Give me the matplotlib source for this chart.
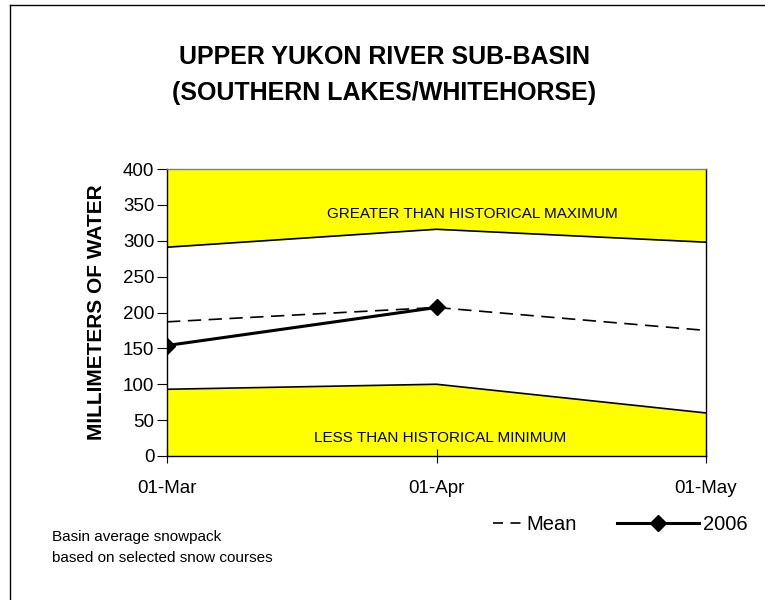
import matplotlib.pyplot as plt
from matplotlib.lines import Line2D

plt.rcParams['font.family'] = ['Liberation Sans', 'DejaVu Sans']

dates = ['01-Mar', '01-Apr', '01-May']
hist_max = [291, 316, 298]
hist_min = [93, 100, 60]
mean_swe = [187, 207, 175]
swe_2006 = [154, 207]

fig = plt.figure(figsize=(7.65, 6), dpi=100)

# frame edges (left and top visible in the original crop)
fig.add_artist(Line2D([0.0131, 0.0131], [0, 0.9917], transform=fig.transFigure,
                      color='black', linewidth=1))
fig.add_artist(Line2D([0.0131, 1], [0.9917, 0.9917], transform=fig.transFigure,
                      color='black', linewidth=1))

ax = fig.add_axes([0.2183, 0.24, 0.7046, 0.4783])
x = list(range(len(dates)))

# shaded zones outside the historical range
ax.fill_between(x, hist_max, 400, color='#ffff00', linewidth=0)
ax.fill_between(x, 0, hist_min, color='#ffff00', linewidth=0)
ax.plot(x, hist_max, color='black', linewidth=1.2)
ax.plot(x, hist_min, color='black', linewidth=1.2)

ax.plot(x, mean_swe, color='black', linestyle=(0, (8, 4.5)), linewidth=1.2)
line_2006, = ax.plot(x[:len(swe_2006)], swe_2006, color='black', linewidth=2.2,
                     marker='D', markersize=8)

ax.text(1.134, 338, 'GREATER THAN HISTORICAL MAXIMUM', ha='center', va='center', fontsize=11)
ax.text(1.012, 25, 'LESS THAN HISTORICAL MINIMUM', ha='center', va='center', fontsize=11)

ax.set_xlim(0, 2)
ax.set_ylim(0, 400)
ax.set_yticks(range(0, 401, 50))
ax.set_xticks(x)
ax.set_xticklabels(dates)
ax.tick_params(axis='x', direction='inout', length=10, labelsize=13.5, pad=12)
ax.tick_params(axis='y', direction='out', length=7, labelsize=13.5, pad=2)
for s in ax.spines.values():
    s.set_linewidth(1)
ax.spines['top'].set_color('#808080')

ax.set_ylabel('MILLIMETERS OF WATER', fontsize=15, fontweight='bold', labelpad=12)

fig.text(0.502, 0.875, 'UPPER YUKON RIVER SUB-BASIN\n(SOUTHERN LAKES/WHITEHORSE)',
         ha='center', va='center', fontsize=18, fontweight='bold', linespacing=1.63)

fig.text(0.068, 0.087, 'Basin average snowpack\nbased on selected snow courses',
         ha='left', va='center', fontsize=11, linespacing=1.6)

mean_handle = Line2D([], [], color='black', linewidth=1.2, linestyle=(0, (6, 4.5)))
fig.legend([mean_handle], ['Mean'], loc='center left', bbox_to_anchor=(0.644, 0.125),
           frameon=False, fontsize=14.5, handlelength=1.45, handletextpad=0.2,
           borderpad=0, borderaxespad=0)
fig.legend([line_2006], ['2006'], loc='center left', bbox_to_anchor=(0.806, 0.125),
           frameon=False, fontsize=14.5, handlelength=4.1, handletextpad=0.2,
           borderpad=0, borderaxespad=0)

fig.savefig('out.png', dpi=100)
